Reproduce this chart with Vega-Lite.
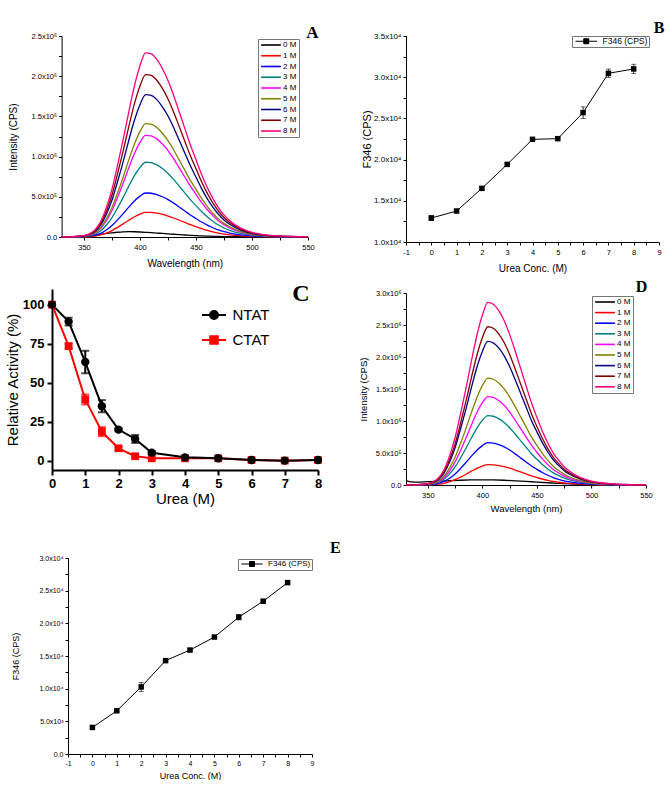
{
"$schema": "https://vega.github.io/schema/vega-lite/v6.json",
"background": "white",
"padding": {"left": 5, "top": 20, "right": 0, "bottom": 0},
"config": {
  "view": {"stroke": null},
  "font": "Liberation Sans",
  "axis": {"grid": false, "domainColor": "#000", "tickColor": "#000", "labelColor": "#000", "titleColor": "#000", "titleFontWeight": "normal", "labelFont": "Liberation Sans", "titleFont": "Liberation Sans", "labelOverlap": false, "labelFlush": false, "tickSize": 3, "domainWidth": 1, "tickWidth": 1},
  "legend": {"labelFont": "Liberation Sans", "labelColor": "#000"},
  "text": {"font": "Liberation Serif", "fontWeight": "bold", "color": "#000", "align": "center", "baseline": "middle"}
},
"datasets": {
"letters": [{"t":"A"},{"t":"B"},{"t":"C"},{"t":"D"},{"t":"E"}],
"specA": [
{"c":"0 M","w":330,"v":3000},{"c":"0 M","w":340,"v":5000},{"c":"0 M","w":350,"v":12000},{"c":"0 M","w":355,"v":18000},{"c":"0 M","w":360,"v":25000},{"c":"0 M","w":365,"v":34000},{"c":"0 M","w":370,"v":44000},{"c":"0 M","w":375,"v":52000},{"c":"0 M","w":380,"v":59000},{"c":"0 M","w":385,"v":64000},{"c":"0 M","w":390,"v":66000},{"c":"0 M","w":395,"v":65000},{"c":"0 M","w":400,"v":62000},{"c":"0 M","w":405,"v":58000},{"c":"0 M","w":410,"v":54000},{"c":"0 M","w":415,"v":49000},{"c":"0 M","w":420,"v":44000},{"c":"0 M","w":425,"v":39000},{"c":"0 M","w":430,"v":34000},{"c":"0 M","w":435,"v":29000},{"c":"0 M","w":440,"v":25000},{"c":"0 M","w":445,"v":21000},{"c":"0 M","w":450,"v":17000},{"c":"0 M","w":455,"v":14000},{"c":"0 M","w":460,"v":11000},{"c":"0 M","w":465,"v":9000},{"c":"0 M","w":470,"v":7000},{"c":"0 M","w":475,"v":5000},{"c":"0 M","w":480,"v":4000},{"c":"0 M","w":490,"v":3000},{"c":"0 M","w":500,"v":2000},{"c":"0 M","w":510,"v":2000},{"c":"0 M","w":520,"v":1000},{"c":"0 M","w":535,"v":1000},{"c":"0 M","w":550,"v":1000},
{"c":"1 M","w":330,"v":0},{"c":"1 M","w":340,"v":600},{"c":"1 M","w":350,"v":2500},{"c":"1 M","w":355,"v":5500},{"c":"1 M","w":360,"v":12300},{"c":"1 M","w":365,"v":26100},{"c":"1 M","w":370,"v":49100},{"c":"1 M","w":375,"v":79800},{"c":"1 M","w":380,"v":119700},{"c":"1 M","w":385,"v":162700},{"c":"1 M","w":390,"v":208800},{"c":"1 M","w":395,"v":251700},{"c":"1 M","w":400,"v":285500},{"c":"1 M","w":405,"v":307000},{"c":"1 M","w":410,"v":305500},{"c":"1 M","w":415,"v":296300},{"c":"1 M","w":420,"v":280900},{"c":"1 M","w":425,"v":261000},{"c":"1 M","w":430,"v":236400},{"c":"1 M","w":435,"v":208800},{"c":"1 M","w":440,"v":181100},{"c":"1 M","w":445,"v":153500},{"c":"1 M","w":450,"v":128900},{"c":"1 M","w":455,"v":104400},{"c":"1 M","w":460,"v":82900},{"c":"1 M","w":465,"v":64500},{"c":"1 M","w":470,"v":49100},{"c":"1 M","w":475,"v":36800},{"c":"1 M","w":480,"v":27600},{"c":"1 M","w":490,"v":14700},{"c":"1 M","w":500,"v":7700},{"c":"1 M","w":510,"v":4000},{"c":"1 M","w":520,"v":2100},{"c":"1 M","w":535,"v":900},{"c":"1 M","w":550,"v":300},
{"c":"2 M","w":330,"v":0},{"c":"2 M","w":340,"v":1100},{"c":"2 M","w":350,"v":4400},{"c":"2 M","w":355,"v":9800},{"c":"2 M","w":360,"v":21900},{"c":"2 M","w":365,"v":46500},{"c":"2 M","w":370,"v":87500},{"c":"2 M","w":375,"v":142200},{"c":"2 M","w":380,"v":213300},{"c":"2 M","w":385,"v":289900},{"c":"2 M","w":390,"v":372000},{"c":"2 M","w":395,"v":448500},{"c":"2 M","w":400,"v":508700},{"c":"2 M","w":405,"v":547000},{"c":"2 M","w":410,"v":544300},{"c":"2 M","w":415,"v":527900},{"c":"2 M","w":420,"v":500500},{"c":"2 M","w":425,"v":465000},{"c":"2 M","w":430,"v":421200},{"c":"2 M","w":435,"v":372000},{"c":"2 M","w":440,"v":322700},{"c":"2 M","w":445,"v":273500},{"c":"2 M","w":450,"v":229700},{"c":"2 M","w":455,"v":186000},{"c":"2 M","w":460,"v":147700},{"c":"2 M","w":465,"v":114900},{"c":"2 M","w":470,"v":87500},{"c":"2 M","w":475,"v":65600},{"c":"2 M","w":480,"v":49200},{"c":"2 M","w":490,"v":26300},{"c":"2 M","w":500,"v":13700},{"c":"2 M","w":510,"v":7100},{"c":"2 M","w":520,"v":3800},{"c":"2 M","w":535,"v":1600},{"c":"2 M","w":550,"v":500},
{"c":"3 M","w":330,"v":0},{"c":"3 M","w":340,"v":1900},{"c":"3 M","w":350,"v":7400},{"c":"3 M","w":355,"v":16700},{"c":"3 M","w":360,"v":37200},{"c":"3 M","w":365,"v":79100},{"c":"3 M","w":370,"v":148800},{"c":"3 M","w":375,"v":241800},{"c":"3 M","w":380,"v":362700},{"c":"3 M","w":385,"v":492900},{"c":"3 M","w":390,"v":632400},{"c":"3 M","w":395,"v":762600},{"c":"3 M","w":400,"v":864900},{"c":"3 M","w":405,"v":930000},{"c":"3 M","w":410,"v":925400},{"c":"3 M","w":415,"v":897500},{"c":"3 M","w":420,"v":851000},{"c":"3 M","w":425,"v":790500},{"c":"3 M","w":430,"v":716100},{"c":"3 M","w":435,"v":632400},{"c":"3 M","w":440,"v":548700},{"c":"3 M","w":445,"v":465000},{"c":"3 M","w":450,"v":390600},{"c":"3 M","w":455,"v":316200},{"c":"3 M","w":460,"v":251100},{"c":"3 M","w":465,"v":195300},{"c":"3 M","w":470,"v":148800},{"c":"3 M","w":475,"v":111600},{"c":"3 M","w":480,"v":83700},{"c":"3 M","w":490,"v":44600},{"c":"3 M","w":500,"v":23300},{"c":"3 M","w":510,"v":12100},{"c":"3 M","w":520,"v":6500},{"c":"3 M","w":535,"v":2800},{"c":"3 M","w":550,"v":900},
{"c":"4 M","w":330,"v":0},{"c":"4 M","w":340,"v":2500},{"c":"4 M","w":350,"v":10100},{"c":"4 M","w":355,"v":22800},{"c":"4 M","w":360,"v":50600},{"c":"4 M","w":365,"v":107500},{"c":"4 M","w":370,"v":202400},{"c":"4 M","w":375,"v":328900},{"c":"4 M","w":380,"v":493400},{"c":"4 M","w":385,"v":670500},{"c":"4 M","w":390,"v":860200},{"c":"4 M","w":395,"v":1037300},{"c":"4 M","w":400,"v":1176500},{"c":"4 M","w":405,"v":1265000},{"c":"4 M","w":410,"v":1258700},{"c":"4 M","w":415,"v":1220700},{"c":"4 M","w":420,"v":1157500},{"c":"4 M","w":425,"v":1075300},{"c":"4 M","w":430,"v":974100},{"c":"4 M","w":435,"v":860200},{"c":"4 M","w":440,"v":746400},{"c":"4 M","w":445,"v":632500},{"c":"4 M","w":450,"v":531300},{"c":"4 M","w":455,"v":430100},{"c":"4 M","w":460,"v":341600},{"c":"4 M","w":465,"v":265700},{"c":"4 M","w":470,"v":202400},{"c":"4 M","w":475,"v":151800},{"c":"4 M","w":480,"v":113900},{"c":"4 M","w":490,"v":60700},{"c":"4 M","w":500,"v":31600},{"c":"4 M","w":510,"v":16400},{"c":"4 M","w":520,"v":8900},{"c":"4 M","w":535,"v":3800},{"c":"4 M","w":550,"v":1300},
{"c":"5 M","w":330,"v":0},{"c":"5 M","w":340,"v":2800},{"c":"5 M","w":350,"v":11300},{"c":"5 M","w":355,"v":25400},{"c":"5 M","w":360,"v":56400},{"c":"5 M","w":365,"v":119900},{"c":"5 M","w":370,"v":225600},{"c":"5 M","w":375,"v":366600},{"c":"5 M","w":380,"v":549900},{"c":"5 M","w":385,"v":747300},{"c":"5 M","w":390,"v":958800},{"c":"5 M","w":395,"v":1156200},{"c":"5 M","w":400,"v":1311300},{"c":"5 M","w":405,"v":1410000},{"c":"5 M","w":410,"v":1403000},{"c":"5 M","w":415,"v":1360700},{"c":"5 M","w":420,"v":1290200},{"c":"5 M","w":425,"v":1198500},{"c":"5 M","w":430,"v":1085700},{"c":"5 M","w":435,"v":958800},{"c":"5 M","w":440,"v":831900},{"c":"5 M","w":445,"v":705000},{"c":"5 M","w":450,"v":592200},{"c":"5 M","w":455,"v":479400},{"c":"5 M","w":460,"v":380700},{"c":"5 M","w":465,"v":296100},{"c":"5 M","w":470,"v":225600},{"c":"5 M","w":475,"v":169200},{"c":"5 M","w":480,"v":126900},{"c":"5 M","w":490,"v":67700},{"c":"5 M","w":500,"v":35300},{"c":"5 M","w":510,"v":18300},{"c":"5 M","w":520,"v":9900},{"c":"5 M","w":535,"v":4200},{"c":"5 M","w":550,"v":1400},
{"c":"6 M","w":330,"v":0},{"c":"6 M","w":340,"v":3500},{"c":"6 M","w":350,"v":14200},{"c":"6 M","w":355,"v":31900},{"c":"6 M","w":360,"v":70800},{"c":"6 M","w":365,"v":150500},{"c":"6 M","w":370,"v":283200},{"c":"6 M","w":375,"v":460200},{"c":"6 M","w":380,"v":690300},{"c":"6 M","w":385,"v":938100},{"c":"6 M","w":390,"v":1203600},{"c":"6 M","w":395,"v":1451400},{"c":"6 M","w":400,"v":1646100},{"c":"6 M","w":405,"v":1770000},{"c":"6 M","w":410,"v":1761200},{"c":"6 M","w":415,"v":1708100},{"c":"6 M","w":420,"v":1619600},{"c":"6 M","w":425,"v":1504500},{"c":"6 M","w":430,"v":1362900},{"c":"6 M","w":435,"v":1203600},{"c":"6 M","w":440,"v":1044300},{"c":"6 M","w":445,"v":885000},{"c":"6 M","w":450,"v":743400},{"c":"6 M","w":455,"v":601800},{"c":"6 M","w":460,"v":477900},{"c":"6 M","w":465,"v":371700},{"c":"6 M","w":470,"v":283200},{"c":"6 M","w":475,"v":212400},{"c":"6 M","w":480,"v":159300},{"c":"6 M","w":490,"v":85000},{"c":"6 M","w":500,"v":44300},{"c":"6 M","w":510,"v":23000},{"c":"6 M","w":520,"v":12400},{"c":"6 M","w":535,"v":5300},{"c":"6 M","w":550,"v":1800},
{"c":"7 M","w":330,"v":0},{"c":"7 M","w":340,"v":4000},{"c":"7 M","w":350,"v":16200},{"c":"7 M","w":355,"v":36400},{"c":"7 M","w":360,"v":80800},{"c":"7 M","w":365,"v":171700},{"c":"7 M","w":370,"v":323200},{"c":"7 M","w":375,"v":525200},{"c":"7 M","w":380,"v":787800},{"c":"7 M","w":385,"v":1070600},{"c":"7 M","w":390,"v":1373600},{"c":"7 M","w":395,"v":1656400},{"c":"7 M","w":400,"v":1878600},{"c":"7 M","w":405,"v":2020000},{"c":"7 M","w":410,"v":2009900},{"c":"7 M","w":415,"v":1949300},{"c":"7 M","w":420,"v":1848300},{"c":"7 M","w":425,"v":1717000},{"c":"7 M","w":430,"v":1555400},{"c":"7 M","w":435,"v":1373600},{"c":"7 M","w":440,"v":1191800},{"c":"7 M","w":445,"v":1010000},{"c":"7 M","w":450,"v":848400},{"c":"7 M","w":455,"v":686800},{"c":"7 M","w":460,"v":545400},{"c":"7 M","w":465,"v":424200},{"c":"7 M","w":470,"v":323200},{"c":"7 M","w":475,"v":242400},{"c":"7 M","w":480,"v":181800},{"c":"7 M","w":490,"v":97000},{"c":"7 M","w":500,"v":50500},{"c":"7 M","w":510,"v":26300},{"c":"7 M","w":520,"v":14100},{"c":"7 M","w":535,"v":6100},{"c":"7 M","w":550,"v":2000},
{"c":"8 M","w":330,"v":0},{"c":"8 M","w":340,"v":4600},{"c":"8 M","w":350,"v":18300},{"c":"8 M","w":355,"v":41200},{"c":"8 M","w":360,"v":91600},{"c":"8 M","w":365,"v":194700},{"c":"8 M","w":370,"v":366400},{"c":"8 M","w":375,"v":595400},{"c":"8 M","w":380,"v":893100},{"c":"8 M","w":385,"v":1213700},{"c":"8 M","w":390,"v":1557200},{"c":"8 M","w":395,"v":1877800},{"c":"8 M","w":400,"v":2129700},{"c":"8 M","w":405,"v":2290000},{"c":"8 M","w":410,"v":2278600},{"c":"8 M","w":415,"v":2209900},{"c":"8 M","w":420,"v":2095400},{"c":"8 M","w":425,"v":1946500},{"c":"8 M","w":430,"v":1763300},{"c":"8 M","w":435,"v":1557200},{"c":"8 M","w":440,"v":1351100},{"c":"8 M","w":445,"v":1145000},{"c":"8 M","w":450,"v":961800},{"c":"8 M","w":455,"v":778600},{"c":"8 M","w":460,"v":618300},{"c":"8 M","w":465,"v":480900},{"c":"8 M","w":470,"v":366400},{"c":"8 M","w":475,"v":274800},{"c":"8 M","w":480,"v":206100},{"c":"8 M","w":490,"v":109900},{"c":"8 M","w":500,"v":57300},{"c":"8 M","w":510,"v":29800},{"c":"8 M","w":520,"v":16000},{"c":"8 M","w":535,"v":6900},{"c":"8 M","w":550,"v":2300}
],
"specD": [
{"c":"0 M","w":330,"v":70000},{"c":"0 M","w":335,"v":48000},{"c":"0 M","w":340,"v":45000},{"c":"0 M","w":350,"v":52000},{"c":"0 M","w":360,"v":60000},{"c":"0 M","w":370,"v":67000},{"c":"0 M","w":380,"v":74000},{"c":"0 M","w":390,"v":79000},{"c":"0 M","w":400,"v":81000},{"c":"0 M","w":410,"v":79000},{"c":"0 M","w":420,"v":74000},{"c":"0 M","w":430,"v":66000},{"c":"0 M","w":440,"v":57000},{"c":"0 M","w":450,"v":45000},{"c":"0 M","w":460,"v":35000},{"c":"0 M","w":470,"v":26000},{"c":"0 M","w":480,"v":18000},{"c":"0 M","w":490,"v":11000},{"c":"0 M","w":500,"v":6000},{"c":"0 M","w":510,"v":3000},{"c":"0 M","w":520,"v":2000},{"c":"0 M","w":535,"v":1000},{"c":"0 M","w":550,"v":1000},
{"c":"1 M","w":330,"v":0},{"c":"1 M","w":340,"v":600},{"c":"1 M","w":350,"v":2500},{"c":"1 M","w":355,"v":5700},{"c":"1 M","w":360,"v":12700},{"c":"1 M","w":365,"v":27000},{"c":"1 M","w":370,"v":50900},{"c":"1 M","w":375,"v":82700},{"c":"1 M","w":380,"v":124000},{"c":"1 M","w":385,"v":168500},{"c":"1 M","w":390,"v":216200},{"c":"1 M","w":395,"v":260800},{"c":"1 M","w":400,"v":295700},{"c":"1 M","w":405,"v":318000},{"c":"1 M","w":410,"v":314800},{"c":"1 M","w":415,"v":303700},{"c":"1 M","w":420,"v":286200},{"c":"1 M","w":425,"v":262400},{"c":"1 M","w":430,"v":233700},{"c":"1 M","w":435,"v":203500},{"c":"1 M","w":440,"v":173300},{"c":"1 M","w":445,"v":143100},{"c":"1 M","w":450,"v":117700},{"c":"1 M","w":455,"v":93800},{"c":"1 M","w":460,"v":73100},{"c":"1 M","w":465,"v":55700},{"c":"1 M","w":470,"v":42900},{"c":"1 M","w":475,"v":31800},{"c":"1 M","w":480,"v":23900},{"c":"1 M","w":490,"v":12700},{"c":"1 M","w":500,"v":6700},{"c":"1 M","w":510,"v":3500},{"c":"1 M","w":520,"v":1900},{"c":"1 M","w":535,"v":800},{"c":"1 M","w":550,"v":300},
{"c":"2 M","w":330,"v":0},{"c":"2 M","w":340,"v":1300},{"c":"2 M","w":350,"v":5300},{"c":"2 M","w":355,"v":11900},{"c":"2 M","w":360,"v":26500},{"c":"2 M","w":365,"v":56300},{"c":"2 M","w":370,"v":105900},{"c":"2 M","w":375,"v":172100},{"c":"2 M","w":380,"v":258200},{"c":"2 M","w":385,"v":350900},{"c":"2 M","w":390,"v":450200},{"c":"2 M","w":395,"v":542800},{"c":"2 M","w":400,"v":615700},{"c":"2 M","w":405,"v":662000},{"c":"2 M","w":410,"v":655400},{"c":"2 M","w":415,"v":632200},{"c":"2 M","w":420,"v":595800},{"c":"2 M","w":425,"v":546200},{"c":"2 M","w":430,"v":486600},{"c":"2 M","w":435,"v":423700},{"c":"2 M","w":440,"v":360800},{"c":"2 M","w":445,"v":297900},{"c":"2 M","w":450,"v":244900},{"c":"2 M","w":455,"v":195300},{"c":"2 M","w":460,"v":152300},{"c":"2 M","w":465,"v":115900},{"c":"2 M","w":470,"v":89400},{"c":"2 M","w":475,"v":66200},{"c":"2 M","w":480,"v":49700},{"c":"2 M","w":490,"v":26500},{"c":"2 M","w":500,"v":13900},{"c":"2 M","w":510,"v":7300},{"c":"2 M","w":520,"v":4000},{"c":"2 M","w":535,"v":1700},{"c":"2 M","w":550,"v":700},
{"c":"3 M","w":330,"v":0},{"c":"3 M","w":340,"v":2200},{"c":"3 M","w":350,"v":8700},{"c":"3 M","w":355,"v":19500},{"c":"3 M","w":360,"v":43400},{"c":"3 M","w":365,"v":92200},{"c":"3 M","w":370,"v":173600},{"c":"3 M","w":375,"v":282100},{"c":"3 M","w":380,"v":423200},{"c":"3 M","w":385,"v":575100},{"c":"3 M","w":390,"v":737800},{"c":"3 M","w":395,"v":889700},{"c":"3 M","w":400,"v":1009100},{"c":"3 M","w":405,"v":1085000},{"c":"3 M","w":410,"v":1074200},{"c":"3 M","w":415,"v":1036200},{"c":"3 M","w":420,"v":976500},{"c":"3 M","w":425,"v":895100},{"c":"3 M","w":430,"v":797500},{"c":"3 M","w":435,"v":694400},{"c":"3 M","w":440,"v":591300},{"c":"3 M","w":445,"v":488300},{"c":"3 M","w":450,"v":401500},{"c":"3 M","w":455,"v":320100},{"c":"3 M","w":460,"v":249600},{"c":"3 M","w":465,"v":189900},{"c":"3 M","w":470,"v":146500},{"c":"3 M","w":475,"v":108500},{"c":"3 M","w":480,"v":81400},{"c":"3 M","w":490,"v":43400},{"c":"3 M","w":500,"v":22800},{"c":"3 M","w":510,"v":11900},{"c":"3 M","w":520,"v":6500},{"c":"3 M","w":535,"v":2700},{"c":"3 M","w":550,"v":1100},
{"c":"4 M","w":330,"v":0},{"c":"4 M","w":340,"v":2800},{"c":"4 M","w":350,"v":11100},{"c":"4 M","w":355,"v":24900},{"c":"4 M","w":360,"v":55300},{"c":"4 M","w":365,"v":117500},{"c":"4 M","w":370,"v":221100},{"c":"4 M","w":375,"v":359300},{"c":"4 M","w":380,"v":539000},{"c":"4 M","w":385,"v":732500},{"c":"4 M","w":390,"v":939800},{"c":"4 M","w":395,"v":1133200},{"c":"4 M","w":400,"v":1285300},{"c":"4 M","w":405,"v":1382000},{"c":"4 M","w":410,"v":1368200},{"c":"4 M","w":415,"v":1319800},{"c":"4 M","w":420,"v":1243800},{"c":"4 M","w":425,"v":1140200},{"c":"4 M","w":430,"v":1015800},{"c":"4 M","w":435,"v":884500},{"c":"4 M","w":440,"v":753200},{"c":"4 M","w":445,"v":621900},{"c":"4 M","w":450,"v":511300},{"c":"4 M","w":455,"v":407700},{"c":"4 M","w":460,"v":317900},{"c":"4 M","w":465,"v":241900},{"c":"4 M","w":470,"v":186600},{"c":"4 M","w":475,"v":138200},{"c":"4 M","w":480,"v":103700},{"c":"4 M","w":490,"v":55300},{"c":"4 M","w":500,"v":29000},{"c":"4 M","w":510,"v":15200},{"c":"4 M","w":520,"v":8300},{"c":"4 M","w":535,"v":3500},{"c":"4 M","w":550,"v":1400},
{"c":"5 M","w":330,"v":0},{"c":"5 M","w":340,"v":3300},{"c":"5 M","w":350,"v":13400},{"c":"5 M","w":355,"v":30000},{"c":"5 M","w":360,"v":66800},{"c":"5 M","w":365,"v":141900},{"c":"5 M","w":370,"v":267000},{"c":"5 M","w":375,"v":433900},{"c":"5 M","w":380,"v":650900},{"c":"5 M","w":385,"v":884600},{"c":"5 M","w":390,"v":1134900},{"c":"5 M","w":395,"v":1368600},{"c":"5 M","w":400,"v":1552200},{"c":"5 M","w":405,"v":1669000},{"c":"5 M","w":410,"v":1652300},{"c":"5 M","w":415,"v":1593900},{"c":"5 M","w":420,"v":1502100},{"c":"5 M","w":425,"v":1376900},{"c":"5 M","w":430,"v":1226700},{"c":"5 M","w":435,"v":1068200},{"c":"5 M","w":440,"v":909600},{"c":"5 M","w":445,"v":751100},{"c":"5 M","w":450,"v":617500},{"c":"5 M","w":455,"v":492400},{"c":"5 M","w":460,"v":383900},{"c":"5 M","w":465,"v":292100},{"c":"5 M","w":470,"v":225300},{"c":"5 M","w":475,"v":166900},{"c":"5 M","w":480,"v":125200},{"c":"5 M","w":490,"v":66800},{"c":"5 M","w":500,"v":35000},{"c":"5 M","w":510,"v":18400},{"c":"5 M","w":520,"v":10000},{"c":"5 M","w":535,"v":4200},{"c":"5 M","w":550,"v":1700},
{"c":"6 M","w":330,"v":0},{"c":"6 M","w":340,"v":4500},{"c":"6 M","w":350,"v":17900},{"c":"6 M","w":355,"v":40400},{"c":"6 M","w":360,"v":89700},{"c":"6 M","w":365,"v":190700},{"c":"6 M","w":370,"v":358900},{"c":"6 M","w":375,"v":583200},{"c":"6 M","w":380,"v":874800},{"c":"6 M","w":385,"v":1188800},{"c":"6 M","w":390,"v":1525200},{"c":"6 M","w":395,"v":1839300},{"c":"6 M","w":400,"v":2086000},{"c":"6 M","w":405,"v":2243000},{"c":"6 M","w":410,"v":2220600},{"c":"6 M","w":415,"v":2142100},{"c":"6 M","w":420,"v":2018700},{"c":"6 M","w":425,"v":1850500},{"c":"6 M","w":430,"v":1648600},{"c":"6 M","w":435,"v":1435500},{"c":"6 M","w":440,"v":1222400},{"c":"6 M","w":445,"v":1009400},{"c":"6 M","w":450,"v":829900},{"c":"6 M","w":455,"v":661700},{"c":"6 M","w":460,"v":515900},{"c":"6 M","w":465,"v":392500},{"c":"6 M","w":470,"v":302800},{"c":"6 M","w":475,"v":224300},{"c":"6 M","w":480,"v":168200},{"c":"6 M","w":490,"v":89700},{"c":"6 M","w":500,"v":47100},{"c":"6 M","w":510,"v":24700},{"c":"6 M","w":520,"v":13500},{"c":"6 M","w":535,"v":5600},{"c":"6 M","w":550,"v":2200},
{"c":"7 M","w":330,"v":0},{"c":"7 M","w":340,"v":4900},{"c":"7 M","w":350,"v":19800},{"c":"7 M","w":355,"v":44500},{"c":"7 M","w":360,"v":98900},{"c":"7 M","w":365,"v":210200},{"c":"7 M","w":370,"v":395700},{"c":"7 M","w":375,"v":643000},{"c":"7 M","w":380,"v":964500},{"c":"7 M","w":385,"v":1310700},{"c":"7 M","w":390,"v":1681600},{"c":"7 M","w":395,"v":2027900},{"c":"7 M","w":400,"v":2299900},{"c":"7 M","w":405,"v":2473000},{"c":"7 M","w":410,"v":2448300},{"c":"7 M","w":415,"v":2361700},{"c":"7 M","w":420,"v":2225700},{"c":"7 M","w":425,"v":2040200},{"c":"7 M","w":430,"v":1817700},{"c":"7 M","w":435,"v":1582700},{"c":"7 M","w":440,"v":1347800},{"c":"7 M","w":445,"v":1112900},{"c":"7 M","w":450,"v":915000},{"c":"7 M","w":455,"v":729500},{"c":"7 M","w":460,"v":568800},{"c":"7 M","w":465,"v":432800},{"c":"7 M","w":470,"v":333900},{"c":"7 M","w":475,"v":247300},{"c":"7 M","w":480,"v":185500},{"c":"7 M","w":490,"v":98900},{"c":"7 M","w":500,"v":51900},{"c":"7 M","w":510,"v":27200},{"c":"7 M","w":520,"v":14800},{"c":"7 M","w":535,"v":6200},{"c":"7 M","w":550,"v":2500},
{"c":"8 M","w":330,"v":0},{"c":"8 M","w":340,"v":5700},{"c":"8 M","w":350,"v":22800},{"c":"8 M","w":355,"v":51400},{"c":"8 M","w":360,"v":114100},{"c":"8 M","w":365,"v":242500},{"c":"8 M","w":370,"v":456500},{"c":"8 M","w":375,"v":741800},{"c":"8 M","w":380,"v":1112700},{"c":"8 M","w":385,"v":1512100},{"c":"8 M","w":390,"v":1940000},{"c":"8 M","w":395,"v":2339500},{"c":"8 M","w":400,"v":2653300},{"c":"8 M","w":405,"v":2853000},{"c":"8 M","w":410,"v":2824500},{"c":"8 M","w":415,"v":2724600},{"c":"8 M","w":420,"v":2567700},{"c":"8 M","w":425,"v":2353700},{"c":"8 M","w":430,"v":2097000},{"c":"8 M","w":435,"v":1825900},{"c":"8 M","w":440,"v":1554900},{"c":"8 M","w":445,"v":1283900},{"c":"8 M","w":450,"v":1055600},{"c":"8 M","w":455,"v":841600},{"c":"8 M","w":460,"v":656200},{"c":"8 M","w":465,"v":499300},{"c":"8 M","w":470,"v":385200},{"c":"8 M","w":475,"v":285300},{"c":"8 M","w":480,"v":214000},{"c":"8 M","w":490,"v":114100},{"c":"8 M","w":500,"v":59900},{"c":"8 M","w":510,"v":31400},{"c":"8 M","w":520,"v":17100},{"c":"8 M","w":535,"v":7100},{"c":"8 M","w":550,"v":2900}
],
"fB": [
{"s":"F346 (CPS)","u":0,"f":12910,"e":300},{"s":"F346 (CPS)","u":1,"f":13760,"e":100},{"s":"F346 (CPS)","u":2,"f":16510,"e":150},{"s":"F346 (CPS)","u":3,"f":19420,"e":200},{"s":"F346 (CPS)","u":4,"f":22460,"e":150},{"s":"F346 (CPS)","u":5,"f":22540,"e":150},{"s":"F346 (CPS)","u":6,"f":25700,"e":700},{"s":"F346 (CPS)","u":7,"f":30470,"e":520},{"s":"F346 (CPS)","u":8,"f":31000,"e":570}
],
"fE": [
{"s":"F346 (CPS)","u":0,"f":4070,"e":150},{"s":"F346 (CPS)","u":1,"f":6610,"e":100},{"s":"F346 (CPS)","u":2,"f":10270,"e":690},{"s":"F346 (CPS)","u":3,"f":14290,"e":100},{"s":"F346 (CPS)","u":4,"f":15910,"e":100},{"s":"F346 (CPS)","u":5,"f":17900,"e":100},{"s":"F346 (CPS)","u":6,"f":20950,"e":430},{"s":"F346 (CPS)","u":7,"f":23390,"e":100},{"s":"F346 (CPS)","u":8,"f":26230,"e":100}
],
"act": [
{"s":"CTAT","u":0,"a":100,"e":0},{"s":"CTAT","u":0.5,"a":73.4,"e":1.5},{"s":"CTAT","u":1,"a":39.2,"e":3.2},{"s":"CTAT","u":1.5,"a":18.6,"e":2.9},{"s":"CTAT","u":2,"a":7.9,"e":1},{"s":"CTAT","u":2.5,"a":2.8,"e":0.8},{"s":"CTAT","u":3,"a":1.5,"e":0.5},{"s":"CTAT","u":4,"a":1.5,"e":0.5},{"s":"CTAT","u":5,"a":1.5,"e":0.5},{"s":"CTAT","u":6,"a":0.4,"e":0.3},{"s":"CTAT","u":7,"a":0,"e":0.3},{"s":"CTAT","u":8,"a":0.4,"e":0.3},
{"s":"NTAT","u":0,"a":100,"e":0},{"s":"NTAT","u":0.5,"a":89.1,"e":2.5},{"s":"NTAT","u":1,"a":63.2,"e":7.2},{"s":"NTAT","u":1.5,"a":34.9,"e":3.9},{"s":"NTAT","u":2,"a":19.9,"e":1},{"s":"NTAT","u":2.5,"a":13.9,"e":2.5},{"s":"NTAT","u":3,"a":5.1,"e":1},{"s":"NTAT","u":4,"a":2.1,"e":0.5},{"s":"NTAT","u":5,"a":1.5,"e":0.5},{"s":"NTAT","u":6,"a":0.4,"e":0.3},{"s":"NTAT","u":7,"a":0,"e":0.3},{"s":"NTAT","u":8,"a":0.4,"e":0.3}
]
},
"resolve": {"scale": {"color": "independent"}, "legend": {"color": "independent"}},
"hconcat": [
 {"resolve": {"scale": {"color": "independent"}, "legend": {"color": "independent"}},
  "vconcat": [
   {"resolve": {"scale": {"color": "independent"}, "legend": {"color": "independent"}},
    "vconcat": [
     {
      "width": 256, "height": 201,
      "resolve": {"axis": {"x": "independent", "y": "independent"}},
      "layer": [
       {"data": {"name": "specA"},
        "mark": {"type": "line", "strokeWidth": 1.3, "interpolate": "monotone"},
        "encoding": {
        "x": {"field": "w", "type": "quantitative", "scale": {"domain": [330, 550], "range": [9.6, 256], "nice": false, "zero": false},
              "axis": {"title": "Wavelength (nm)", "values": [350,375,400,425,450,475,500,525,550], "labelExpr": "datum.value % 50 === 0 ? datum.label : ''", "labelOverlap": false, "labelFlush": false, "labelFontSize": 7.5, "titleFontSize": 10, "labelPadding": 3, "titlePadding": 8}},
        "y": {"field": "v", "type": "quantitative", "scale": {"domain": [0, 2500000], "nice": false},
              "axis": {"title": "Intensity (CPS)", "offset": -9.6, "values": [0,250000,500000,750000,1000000,1250000,1500000,1750000,2000000,2250000,2500000], "labelExpr": "datum.value % 500000 !== 0 ? '' : datum.value === 0 ? '0.0' : datum.value < 1000000 ? format(datum.value / 100000, '.1f') + 'x10⁵' : format(datum.value / 1000000, '.1f') + 'x10⁶'", "labelOverlap": false, "labelFlush": false, "labelFontSize": 7.5, "titleFontSize": 10, "labelPadding": 2, "titlePadding": 12.6}},
        "color": {"field": "c", "type": "nominal",
              "scale": {"domain": ["0 M","1 M","2 M","3 M","4 M","5 M","6 M","7 M","8 M"], "range": ["#000000","#ff0000","#0000ff","#008080","#ff00ff","#808000","#000080","#800000","#ff0080"]},
              "legend": {"title": null, "orient": "none", "legendX": 206, "legendY": 3, "symbolType": "M-3.3,0H3.3", "symbolSize": 36, "symbolStrokeWidth": 1.6, "labelFontSize": 8, "symbolOffset": 7, "labelOffset": 8, "strokeColor": "#777", "padding": 2, "rowPadding": 2.75}}
        }},
       {"data": {"name": "letters"}, "transform": [{"filter": "datum.t === 'A'"}],
        "mark": {"type": "text", "fontSize": 17, "clip": false},
        "encoding": {"text": {"field": "t"}, "x": {"datum": 554, "type": "quantitative", "axis": null}, "y": {"datum": 2537000, "type": "quantitative", "axis": null}}}
      ]
     },
     {
      "width": 266, "height": 181,
      "resolve": {"axis": {"x": "independent", "y": "independent"}},
      "layer": [
       {"data": {"name": "act"},
        "encoding": {
        "x": {"field": "u", "type": "quantitative", "scale": {"domain": [0, 8], "nice": false},
              "axis": {"title": "Urea (M)", "values": [0,1,2,3,4,5,6,7,8], "labelOverlap": false, "labelFontSize": 13, "labelFontWeight": "bold", "titleFontSize": 15, "domainWidth": 2, "tickWidth": 2, "tickSize": 5, "labelPadding": 2, "titlePadding": 1, "labelFont": "Liberation Sans Narrow, Liberation Sans, sans-serif", "titleFont": "Liberation Sans Narrow, Liberation Sans, sans-serif"}},
        "y": {"field": "a", "type": "quantitative", "scale": {"domain": [-6, 110], "nice": false, "zero": false},
              "axis": {"title": "Relative Activity (%)", "values": [0,25,50,75,100], "labelOverlap": false, "labelFontSize": 13, "labelFontWeight": "bold", "titleFontSize": 15, "domainWidth": 2, "tickWidth": 2, "tickSize": 5, "labelPadding": 3, "titlePadding": 1.5, "labelFont": "Liberation Sans Narrow, Liberation Sans, sans-serif", "titleFont": "Liberation Sans"}},
        "color": {"field": "s", "type": "nominal", "scale": {"domain": ["NTAT","CTAT"], "range": ["#000000","#ff0000"]},
              "legend": {"title": null, "orient": "none", "legendX": 146.5, "legendY": 18.5, "labelFontSize": 15, "labelFont": "Liberation Sans Narrow, Liberation Sans, sans-serif", "symbolSize": 64, "rowPadding": 8, "symbolOffset": 8, "labelOffset": 11, "padding": 0,
                "encode": {"symbols": {"update": {
                  "shape": {"signal": "datum.value === 'NTAT' ? 'M-3,0H3M-1,0A1,1 0 1,1 1,0A1,1 0 1,1 -1,0Z' : 'M-3,0H3M-0.95,-0.95H0.95V0.95H-0.95Z'"},
                  "fill": {"signal": "datum.value === 'NTAT' ? '#000000' : '#ff0000'"},
                  "stroke": {"signal": "datum.value === 'NTAT' ? '#000000' : '#ff0000'"},
                  "strokeWidth": {"value": 2}, "opacity": {"value": 1}}}}}}
        },
        "layer": [
          {"mark": {"type": "errorbar", "ticks": {"size": 8}, "thickness": 2}, "encoding": {"yError": {"field": "e"}}},
          {"mark": {"type": "line", "strokeWidth": 2}},
          {"transform": [{"filter": "datum.s === 'CTAT'"}], "mark": {"type": "square", "opacity": 1, "size": 60}},
          {"transform": [{"filter": "datum.s === 'NTAT'"}], "mark": {"type": "circle", "opacity": 1, "size": 70}}
        ]},
       {"data": {"name": "letters"}, "transform": [{"filter": "datum.t === 'C'"}],
        "mark": {"type": "text", "fontSize": 24, "clip": false},
        "encoding": {"text": {"field": "t"}, "x": {"datum": 7.49, "type": "quantitative", "axis": null}, "y": {"datum": 106.5, "type": "quantitative", "axis": null}}}
      ]
     }
   ], "spacing": 13},
   {
    "width": 260, "height": 196,
    "resolve": {"axis": {"x": "independent", "y": "independent"}},
    "layer": [
     {"data": {"name": "fE"},
      "encoding": {
      "x": {"field": "u", "type": "quantitative", "scale": {"domain": [-1, 9], "range": [16, 260], "nice": false, "zero": false},
            "axis": {"title": "Urea Conc. (M)", "values": [-1,-0.5,0,0.5,1,1.5,2,2.5,3,3.5,4,4.5,5,5.5,6,6.5,7,7.5,8,8.5,9], "labelExpr": "datum.value % 1 !== 0 ? '' : '' + datum.value", "labelOverlap": false, "labelFlush": false, "labelFontSize": 7, "titleFontSize": 9, "labelPadding": 2, "titlePadding": 5}},
      "y": {"field": "f", "type": "quantitative", "scale": {"domain": [0, 30000], "nice": false},
            "axis": {"title": "F346 (CPS)", "offset": -16, "values": [0,2500,5000,7500,10000,12500,15000,17500,20000,22500,25000,27500,30000], "labelExpr": "datum.value % 5000 !== 0 ? '' : datum.value === 0 ? '0.0' : datum.value < 10000 ? format(datum.value / 1000, '.1f') + 'x10³' : format(datum.value / 10000, '.1f') + 'x10⁴'", "labelOverlap": false, "labelFlush": false, "labelFontSize": 7, "titleFontSize": 9, "labelPadding": 2, "titlePadding": 18.2}},
      "color": {"field": "s", "type": "nominal", "scale": {"range": ["#000000"]},
            "legend": {"title": null, "orient": "none", "legendX": 186, "legendY": 1, "symbolType": "M-4.3,0H4.3M-1,-1H1V1H-1Z", "symbolSize": 25, "symbolStrokeWidth": 1, "labelFontSize": 8, "symbolOffset": 9, "labelOffset": 12, "strokeColor": "#777", "padding": 1,
              "encode": {"symbols": {"update": {"fill": {"value": "#000000"}, "stroke": {"value": "#000000"}, "opacity": {"value": 1}}}}}}
      },
      "layer": [
        {"mark": {"type": "errorbar", "ticks": {"size": 5}, "thickness": 0.8}, "encoding": {"yError": {"field": "e"}}},
        {"mark": {"type": "line", "strokeWidth": 1}},
        {"mark": {"type": "point", "shape": "square", "filled": true, "opacity": 1, "size": 30}}
      ]},
     {"data": {"name": "letters"}, "transform": [{"filter": "datum.t === 'E'"}],
      "mark": {"type": "text", "fontSize": 16, "clip": false},
      "encoding": {"text": {"field": "t"}, "x": {"datum": 9.96, "type": "quantitative", "axis": null}, "y": {"datum": 31530, "type": "quantitative", "axis": null}}}
    ]
   }
 ], "spacing": 34},
 {"resolve": {"scale": {"color": "independent"}, "legend": {"color": "independent"}},
  "vconcat": [
   {
    "width": 253, "height": 206,
    "resolve": {"axis": {"x": "independent", "y": "independent"}},
    "layer": [
     {"data": {"name": "fB"},
      "encoding": {
      "x": {"field": "u", "type": "quantitative", "scale": {"domain": [-1, 9], "nice": false, "zero": false},
            "axis": {"title": "Urea Conc. (M)", "values": [-1,-0.5,0,0.5,1,1.5,2,2.5,3,3.5,4,4.5,5,5.5,6,6.5,7,7.5,8,8.5,9], "labelExpr": "datum.value % 1 !== 0 ? '' : '' + datum.value", "labelOverlap": false, "labelFlush": false, "labelFontSize": 7.5, "titleFontSize": 10, "labelPadding": 3, "titlePadding": 8}},
      "y": {"field": "f", "type": "quantitative", "scale": {"domain": [10000, 35000], "nice": false, "zero": false},
            "axis": {"title": "F346 (CPS)", "values": [10000,12500,15000,17500,20000,22500,25000,27500,30000,32500,35000], "labelExpr": "datum.value % 5000 !== 0 ? '' : format(datum.value / 10000, '.1f') + 'x10⁴'", "labelOverlap": false, "labelFlush": false, "labelFontSize": 8, "titleFontSize": 11, "labelPadding": 2, "titlePadding": 1.5}},
      "color": {"field": "s", "type": "nominal", "scale": {"range": ["#000000"]},
            "legend": {"title": null, "orient": "none", "legendX": 166, "legendY": 0, "symbolType": "M-4.3,0H4.3M-1,-1H1V1H-1Z", "symbolSize": 25, "symbolStrokeWidth": 1, "labelFontSize": 8.5, "symbolOffset": 9, "labelOffset": 12, "strokeColor": "#777", "padding": 1,
              "encode": {"symbols": {"update": {"fill": {"value": "#000000"}, "stroke": {"value": "#000000"}, "opacity": {"value": 1}}}}}}
      },
      "layer": [
        {"mark": {"type": "errorbar", "ticks": {"size": 5}, "thickness": 0.8}, "encoding": {"yError": {"field": "e"}}},
        {"mark": {"type": "line", "strokeWidth": 1}},
        {"mark": {"type": "point", "shape": "square", "filled": true, "opacity": 1, "size": 30}}
      ]},
     {"data": {"name": "letters"}, "transform": [{"filter": "datum.t === 'B'"}],
      "mark": {"type": "text", "fontSize": 16, "clip": false},
      "encoding": {"text": {"field": "t"}, "x": {"datum": 9.0, "type": "quantitative", "axis": null}, "y": {"datum": 35970, "type": "quantitative", "axis": null}}}
    ]
   },
   {
    "width": 240, "height": 192,
    "resolve": {"axis": {"x": "independent", "y": "independent"}},
    "layer": [
     {"data": {"name": "specD"},
      "mark": {"type": "line", "strokeWidth": 1.3, "interpolate": "monotone"},
      "encoding": {
      "x": {"field": "w", "type": "quantitative", "scale": {"domain": [330, 550], "nice": false, "zero": false},
            "axis": {"title": "Wavelength (nm)", "values": [350,375,400,425,450,475,500,525,550], "labelExpr": "datum.value % 50 === 0 ? datum.label : ''", "labelOverlap": false, "labelFlush": false, "labelFontSize": 7.5, "titleFontSize": 9.5, "labelPadding": 3, "titlePadding": 5}},
      "y": {"field": "v", "type": "quantitative", "scale": {"domain": [0, 3000000], "nice": false},
            "axis": {"title": "Intensity (CPS)", "values": [0,250000,500000,750000,1000000,1250000,1500000,1750000,2000000,2250000,2500000,2750000,3000000], "labelExpr": "datum.value % 500000 !== 0 ? '' : datum.value === 0 ? '0.0' : datum.value < 1000000 ? format(datum.value / 100000, '.1f') + 'x10⁵' : format(datum.value / 1000000, '.1f') + 'x10⁶'", "labelOverlap": false, "labelFlush": false, "labelFontSize": 7.5, "titleFontSize": 9.5, "labelPadding": 2, "titlePadding": 6.5}},
      "color": {"field": "c", "type": "nominal",
            "scale": {"domain": ["0 M","1 M","2 M","3 M","4 M","5 M","6 M","7 M","8 M"], "range": ["#000000","#ff0000","#0000ff","#008080","#ff00ff","#808000","#000080","#800000","#ff0080"]},
            "legend": {"title": null, "orient": "none", "legendX": 186, "legendY": 3, "symbolType": "M-3.3,0H3.3", "symbolSize": 36, "symbolStrokeWidth": 1.6, "labelFontSize": 8, "symbolOffset": 7, "labelOffset": 8, "strokeColor": "#777", "padding": 2, "rowPadding": 2.6}}
      }},
     {"data": {"name": "letters"}, "transform": [{"filter": "datum.t === 'D'"}],
      "mark": {"type": "text", "fontSize": 16, "clip": false},
      "encoding": {"text": {"field": "t"}, "x": {"datum": 545.9, "type": "quantitative", "axis": null}, "y": {"datum": 3100000, "type": "quantitative", "axis": null}}}
    ]
   }
 ], "spacing": 4}
],
"spacing": 17
}
